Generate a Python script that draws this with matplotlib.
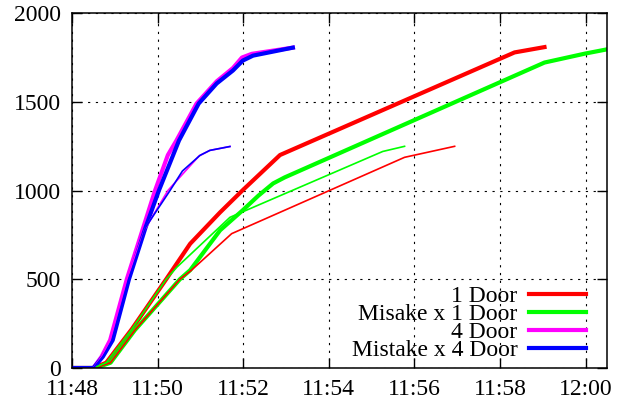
import datetime as dt
import matplotlib
matplotlib.use("Agg")
import matplotlib.pyplot as plt
import matplotlib.dates as mdates

plt.rcParams['font.family'] = ['Liberation Serif', 'DejaVu Serif']

# minutes after 11:48, count
t_red = [0, 0.5, 0.8, 1.4, 2.2, 2.76, 3.46, 3.98, 4.86, 10.34, 11.04]
v_red = [0, 0, 30, 220, 500, 700, 877, 1000, 1200, 1778, 1808]

t_green = [0, 0.55, 0.9, 1.47, 2.52, 2.76, 3.46, 3.99, 4.35, 4.7, 4.97, 11.04, 11.98, 12.6]
v_green = [0, 0, 30, 214, 500, 551, 776, 889, 970, 1040, 1074, 1721, 1771, 1800]

t_mag = [0, 0.5, 0.69, 0.89, 1.28, 1.94, 2.24, 2.44, 2.91, 3.38, 3.76, 3.97, 4.2, 5.16]
v_mag = [0, 0, 64, 157, 500, 1000, 1200, 1282, 1490, 1615, 1690, 1749, 1770, 1805]

t_blue = [0, 0.5, 0.72, 0.95, 1.33, 1.72, 2.03, 2.5, 2.96, 3.38, 3.76, 3.99, 4.23, 5.16]
v_blue = [0, 0, 64, 157, 500, 793, 1000, 1282, 1490, 1603, 1676, 1732, 1760, 1805]

# second runs (thin lines, no key)
t_red2 = [0, 0.55, 0.9, 1.47, 2.52, 2.79, 3.73, 7.77, 8.94]
v_red2 = [0, 0, 30, 214, 500, 551, 757, 1187, 1249]

t_green2 = [0, 0.5, 0.8, 1.4, 2.2, 2.45, 3.69, 7.26, 7.77]
v_green2 = [0, 0, 30, 220, 500, 568, 849, 1220, 1249]

t_mag2 = [0, 0.5, 0.69, 0.89, 1.28, 1.7, 2.24, 2.65, 2.97, 3.22, 3.69]
v_mag2 = [0, 0, 64, 157, 500, 780, 1000, 1110, 1195, 1226, 1248]

t_blue2 = [0, 0.5, 0.72, 0.95, 1.33, 1.72, 2.29, 2.58, 2.99, 3.22, 3.69]
v_blue2 = [0, 0, 64, 157, 500, 793, 1000, 1110, 1198, 1226, 1248]

start = dt.datetime(2000, 1, 1, 11, 48)
def tt(mins):
    return [start + dt.timedelta(minutes=m) for m in mins]

fig = plt.figure(figsize=(6.23, 4.03), dpi=100)
ax = fig.add_axes([0.1156, 0.0868, 0.8587, 0.8809])

thick = 3.0
thin = 1.2
ax.plot(tt(t_red), v_red, color='#ff0000', lw=thick, label='1 Door')
ax.plot(tt(t_green), v_green, color='#00ff00', lw=thick, label='Misake x 1 Door')
ax.plot(tt(t_mag), v_mag, color='#ff00ff', lw=thick, label='4 Door')
ax.plot(tt(t_blue), v_blue, color='#0000ff', lw=thick, label='Mistake x 4 Door')
ax.plot(tt(t_red2), v_red2, color='#ff0000', lw=thin)
ax.plot(tt(t_green2), v_green2, color='#00ff00', lw=thin)
ax.plot(tt(t_mag2), v_mag2, color='#ff00ff', lw=thin)
ax.plot(tt(t_blue2), v_blue2, color='#0000ff', lw=thin)

ax.set_xlim(start, start + dt.timedelta(minutes=12.5))
ax.set_ylim(0, 2000)
ax.set_yticks([0, 500, 1000, 1500, 2000])
ax.xaxis.set_major_locator(mdates.MinuteLocator(byminute=range(0, 60, 2)))
ax.xaxis.set_major_formatter(mdates.DateFormatter('%H:%M'))

ax.grid(True, color='black', lw=0.8, linestyle=(0, (2, 5)))
ax.tick_params(direction='in', length=7, width=1, top=True, right=True,
               labelsize=17, pad=8)
for s in ax.spines.values():
    s.set_linewidth(1.1)

leg = ax.legend(loc='lower right', bbox_to_anchor=(0.9607, 0.02),
                markerfirst=False, frameon=False,
                fontsize=17, labelspacing=-0.15, handlelength=2.4,
                handletextpad=0.5, borderaxespad=0, borderpad=0)

fig.savefig('out.png', dpi=100)
